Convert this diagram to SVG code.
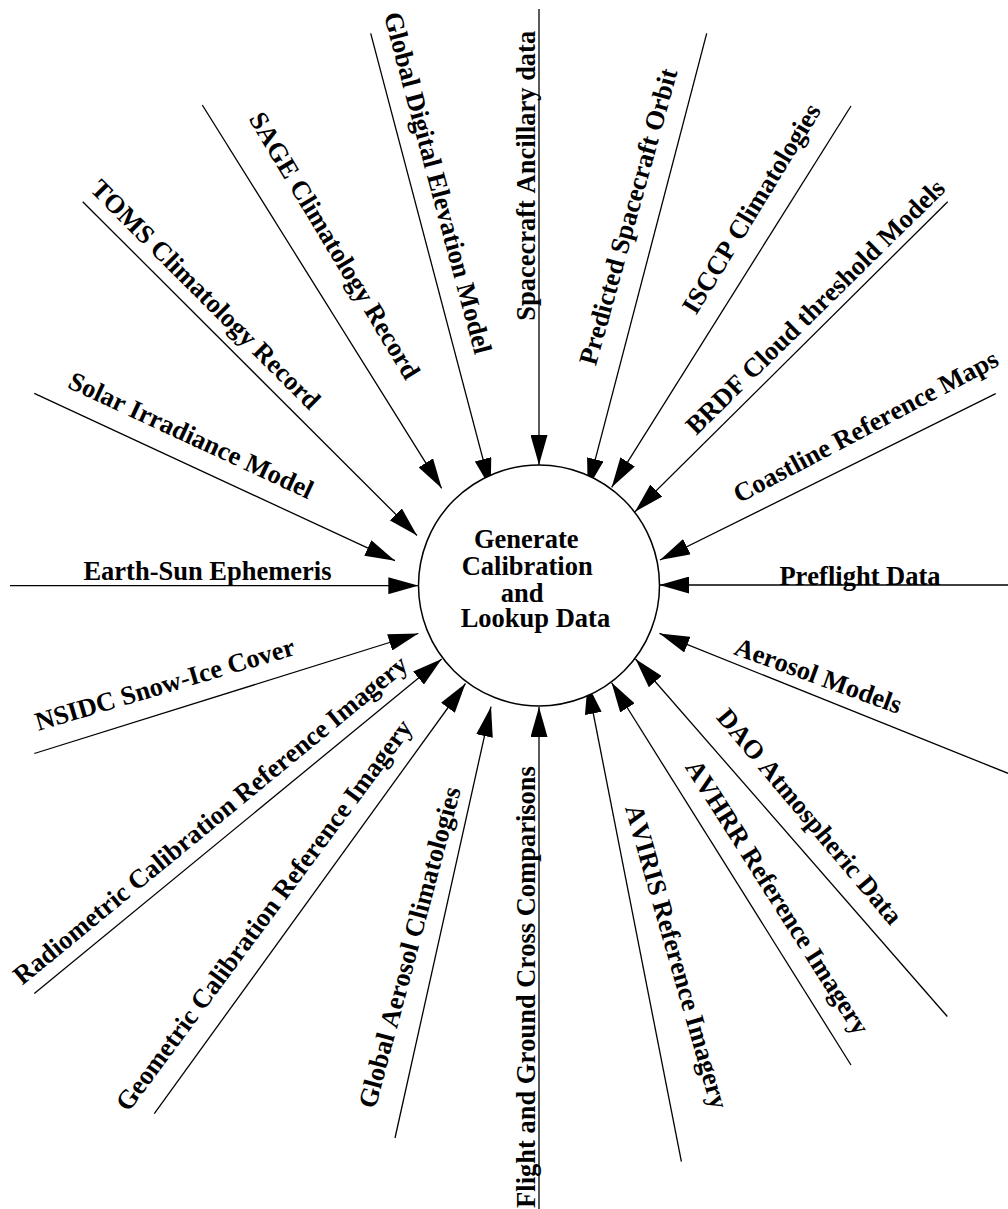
<svg xmlns="http://www.w3.org/2000/svg" width="1008" height="1209" viewBox="0 0 1008 1209">
  <style>
    .lbl { font-family: "Liberation Serif", "Times New Roman", serif; font-weight: bold; font-size: 26.5px; fill: #000; font-kerning: none; }
    .edge { stroke: #000; stroke-width: 1.3; fill: none; marker-end: url(#arrow); }
    .proc { fill: #fff; stroke: #000; stroke-width: 1.5; }
  </style>
  <defs>
    <marker id="arrow" markerUnits="userSpaceOnUse" markerWidth="30" markerHeight="17" refX="30" refY="8.5" orient="auto">
      <path d="M0,0 L30,8.5 L0,17 Z" fill="#000"/>
    </marker>
  </defs>
  <rect width="1008" height="1209" fill="#fff"/>

  <!-- data flows into the central process -->
  <g id="connectors">
    <line class="edge" x1="539" y1="9" x2="539" y2="465"/>
    <line class="edge" x1="370.7" y1="33.3" x2="490.7" y2="488.3"/>
    <line class="edge" x1="202.3" y1="105" x2="441.7" y2="488.3"/>
    <line class="edge" x1="82.7" y1="201.7" x2="417" y2="535.5"/>
    <line class="edge" x1="34.3" y1="393.3" x2="395" y2="560.7"/>
    <line class="edge" x1="10" y1="585.7" x2="418.3" y2="585.7"/>
    <line class="edge" x1="34.3" y1="753.5" x2="418.3" y2="633.5"/>
    <line class="edge" x1="34.3" y1="993.5" x2="441.7" y2="659"/>
    <line class="edge" x1="154.3" y1="1113.6" x2="465.5" y2="683.5"/>
    <line class="edge" x1="395" y1="1138" x2="491" y2="706.7"/>
    <line class="edge" x1="539" y1="1209" x2="539" y2="707"/>
    <line class="edge" x1="681.4" y1="1161.7" x2="587.5" y2="684"/>
    <line class="edge" x1="851" y1="1065" x2="611.5" y2="682.5"/>
    <line class="edge" x1="947.3" y1="1016.5" x2="635.5" y2="659"/>
    <line class="edge" x1="1008" y1="773.3" x2="659.5" y2="633.4"/>
    <line class="edge" x1="1008" y1="585" x2="659.3" y2="585"/>
    <line class="edge" x1="995.7" y1="393.7" x2="660" y2="560"/>
    <line class="edge" x1="947.7" y1="201.7" x2="635" y2="511.7"/>
    <line class="edge" x1="851" y1="106" x2="611.7" y2="487.3"/>
    <line class="edge" x1="706.7" y1="33.3" x2="587.7" y2="488.3"/>
  </g>

  <!-- central process -->
  <g id="generate-calibration">
    <circle class="proc" cx="539" cy="585.5" r="120.5"/>
    <text class="lbl" x="474" y="548.3">Generate</text>
    <text class="lbl" x="461.7" y="575">Calibration</text>
    <text class="lbl" x="500.7" y="601.7">and</text>
    <text class="lbl" x="460.7" y="626.7">Lookup Data</text>
  </g>

  <!-- external sources -->
  <g id="spacecraft-ancillary"><text class="lbl" text-anchor="middle" transform="translate(534.5,175.8) rotate(-90)">Spacecraft Ancillary data</text></g>
  <g id="global-dem"><text class="lbl" text-anchor="middle" transform="translate(429.3,185.1) rotate(75)">Global Digital Elevation Model</text></g>
  <g id="sage"><text class="lbl" text-anchor="middle" transform="translate(327,250) rotate(59)">SAGE Climatology Record</text></g>
  <g id="toms"><text class="lbl" text-anchor="middle" transform="translate(199.3,300.7) rotate(45)">TOMS Climatology Record</text></g>
  <g id="solar-irradiance"><text class="lbl" text-anchor="middle" transform="translate(187.4,443.3) rotate(24.9)">Solar Irradiance Model</text></g>
  <g id="earth-sun"><text class="lbl" text-anchor="middle" x="207.5" y="580">Earth-Sun Ephemeris</text></g>
  <g id="nsidc"><text class="lbl" text-anchor="middle" transform="translate(167.3,692.7) rotate(-16.5)">NSIDC Snow-Ice Cover</text></g>
  <g id="radiometric"><text class="lbl" text-anchor="middle" transform="translate(215.9,826.7) rotate(-39.4)">Radiometric Calibration Reference Imagery</text></g>
  <g id="geometric"><text class="lbl" text-anchor="middle" transform="translate(270.9,920.3) rotate(-53.5)">Geometric Calibration Reference Imagery</text></g>
  <g id="global-aerosol"><text class="lbl" text-anchor="middle" transform="translate(418,949.6) rotate(-75)">Global Aerosol Climatologies</text></g>
  <g id="flight-ground"><text class="lbl" text-anchor="middle" transform="translate(535,987) rotate(-90)">Flight and Ground Cross Comparisons</text></g>
  <g id="aviris"><text class="lbl" text-anchor="middle" transform="translate(668.3,959.2) rotate(74)">AVIRIS Reference Imagery</text></g>
  <g id="avhrr"><text class="lbl" text-anchor="middle" transform="translate(770,901.8) rotate(57.6)">AVHRR Reference Imagery</text></g>
  <g id="dao"><text class="lbl" text-anchor="middle" transform="translate(802.9,822.1) rotate(50)">DAO Atmospheric Data</text></g>
  <g id="aerosol-models"><text class="lbl" text-anchor="middle" transform="translate(815.3,684) rotate(20)">Aerosol Models</text></g>
  <g id="preflight"><text class="lbl" text-anchor="middle" x="860" y="585">Preflight Data</text></g>
  <g id="coastline"><text class="lbl" text-anchor="middle" transform="translate(869.8,434.1) rotate(-28)">Coastline Reference Maps</text></g>
  <g id="brdf"><text class="lbl" text-anchor="middle" transform="translate(821.4,313) rotate(-44.5)">BRDF Cloud threshold Models</text></g>
  <g id="isccp"><text class="lbl" text-anchor="middle" transform="translate(758.8,213.2) rotate(-58.5)">ISCCP Climatologies</text></g>
  <g id="predicted-orbit"><text class="lbl" text-anchor="middle" transform="translate(636.7,219.1) rotate(-74.5)">Predicted Spacecraft Orbit</text></g>
</svg>
